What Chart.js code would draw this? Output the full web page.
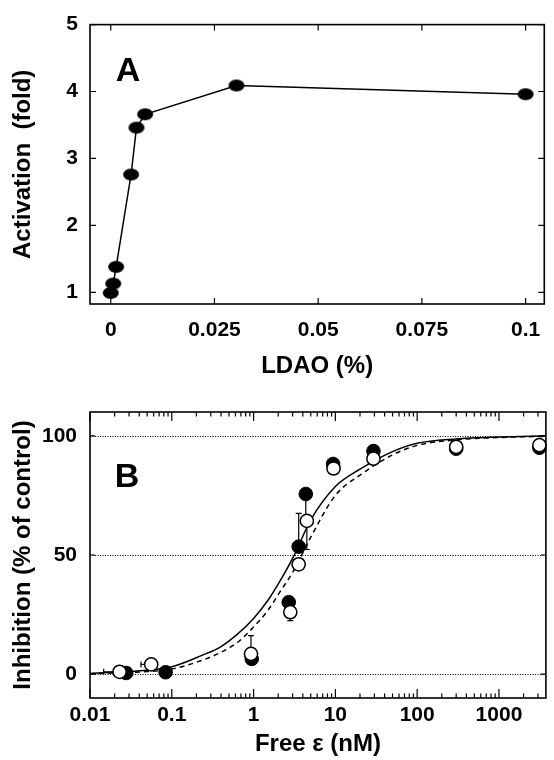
<!DOCTYPE html>
<html>
<head>
<meta charset="utf-8">
<title>LDAO activation / free epsilon inhibition</title>
<script src="https://cdn.jsdelivr.net/npm/chart.js@4.4.1/dist/chart.umd.min.js"></script>
<style>
  html, body { margin: 0; padding: 0; background: #fff; }
  #wrap { position: relative; width: 554px; height: 760px; }
  .panel { position: absolute; left: 0; width: 554px; }
  #panelA { top: 0; height: 385px; }
  #panelB { top: 385px; height: 375px; }
</style>
</head>
<body>
<div id="wrap">
  <div class="panel" id="panelA"><canvas id="chartA"></canvas></div>
  <div class="panel" id="panelB"><canvas id="chartB"></canvas></div>
</div>
<script>
// panel A - activation vs LDAO
const ldao = [0, 0.0006, 0.0013, 0.0049, 0.0062, 0.0083, 0.0303, 0.1]
const activation = [0.99, 1.13, 1.38, 2.76, 3.46, 3.66, 4.09, 3.96]
const xTicksA = [0, 0.025, 0.05, 0.075, 0.1]
const yTicksA = [1, 2, 3, 4, 5]

// panel B - inhibition vs free epsilon (filled / open symbols)
const freeFilled = [0.0277, 0.084, 0.95, 2.69, 3.56, 4.35, 9.38, 29.2, 300, 3120]
const inhibFilled = [0.5, 0.8, 6.4, 30.2, 53.5, 75.6, 88.2, 93.6, 94.6, 95.0]
const filledErrUp = [0, 0, 0, 0, 14, 0, 0, 0, 0, 0]
const filledErrDown = [0, 0, 0, 0, 0, 10, 0, 0, 0, 0]

const freeOpen = [0.023, 0.056, 0.93, 2.81, 3.56, 4.48, 9.5, 29.2, 300, 3120]
const inhibOpen = [1.0, 4.1, 8.5, 26.0, 46.1, 64.3, 86.3, 90.4, 95.4, 96.1]
const openErrUp = [0, 0, 7.7, 0, 0, 0, 0, 0, 0, 0]
const openErrDown = [0, 0, 0, 3.5, 0, 12, 0, 0, 0, 0]
const openXLow = [0.0147, 0.042, 0, 0, 0, 0, 0, 0, 0, 0]

// fitted curves
const curveX = [0.01, 0.05, 0.1, 0.23, 0.4, 0.64, 1.0, 1.5, 2.1, 3.1, 5, 10, 20, 50, 100, 300, 1000, 3750]
const solidY = [0.3, 1.6, 3.1, 7.8, 11.6, 16.9, 23.4, 31.0, 39.0, 49.5, 64.7, 78.7, 86.0, 93.4, 96.9, 98.7, 99.5, 100]
const dashedY = [0.2, 1.1, 2.2, 5.7, 9.2, 13.4, 19.8, 26.8, 34.5, 43.5, 57.5, 75.0, 83.5, 92.0, 96.0, 98.3, 99.3, 99.8]
const xTicksB = [0.01, 0.1, 1, 10, 100, 1000]
const yTicksB = [0, 50, 100]

Chart.defaults.font.family = '"Liberation Sans", Arial, Helvetica, sans-serif'
Chart.defaults.font.weight = 'bold'
Chart.defaults.color = '#000'

const toPoints = (xs, ys) => xs.map((x, i) => ({ x: x, y: ys[i] }))

// ellipse shaped dot used in panel A
function ellipseDot(rx, ry) {
    const c = document.createElement('canvas')
    c.width = rx * 2 + 2
    c.height = ry * 2 + 2
    const g = c.getContext('2d')
    g.fillStyle = '#000'
    g.beginPath()
    g.ellipse(c.width / 2, c.height / 2, rx, ry, 0, 0, Math.PI * 2)
    g.fill()
    return c
}

// box round the plot, inward ticks, dotted reference lines
const framePlugin = {
    id: 'frame',
    beforeDatasetsDraw(chart, args, opts) {
        if (!opts.dotted) return
        const { ctx, chartArea: a } = chart
        const y = chart.scales.y
        ctx.save()
        ctx.setLineDash([1, 1.5])
        ctx.lineWidth = 1
        ctx.strokeStyle = '#000'
        opts.dotted.forEach((v) => {
            const py = Math.round(y.getPixelForValue(v)) + 0.5
            ctx.beginPath()
            ctx.moveTo(a.left, py)
            ctx.lineTo(a.right, py)
            ctx.stroke()
        })
        ctx.restore()
    },
    afterDraw(chart, args, opts) {
        const { ctx, chartArea: a } = chart
        const x = chart.scales.x
        const y = chart.scales.y
        ctx.save()
        ctx.strokeStyle = '#000'
        ctx.lineWidth = 1.2
        ctx.beginPath()
        ;(opts.xTicks || []).forEach((t) => {
            const px = x.getPixelForValue(t.v)
            ctx.moveTo(px, a.bottom)
            ctx.lineTo(px, a.bottom - t.len)
            ctx.moveTo(px, a.top)
            ctx.lineTo(px, a.top + t.len)
        })
        ;(opts.yTicks || []).forEach((t) => {
            const py = y.getPixelForValue(t.v)
            ctx.moveTo(a.left, py)
            ctx.lineTo(a.left + t.len, py)
            ctx.moveTo(a.right, py)
            ctx.lineTo(a.right - t.len, py)
        })
        ctx.stroke()
        ctx.lineWidth = 1.6
        ctx.strokeRect(a.left, a.top, a.right - a.left, a.bottom - a.top)
        ctx.restore()
    }
}

// big panel letter
const letterPlugin = {
    id: 'letter',
    afterDraw(chart, args, opts) {
        const { ctx, chartArea: a } = chart
        ctx.save()
        ctx.font = 'bold 34px "Liberation Sans", Arial, sans-serif'
        ctx.fillStyle = '#000'
        ctx.textAlign = 'center'
        ctx.textBaseline = 'middle'
        ctx.fillText(opts.text, a.left + opts.dx, a.top + opts.dy)
        ctx.restore()
    }
}

// error bars (vertical up/down, horizontal to the left)
const errorPlugin = {
    id: 'errbars',
    beforeDatasetsDraw(chart, args, opts) {
        if (!opts.sets) return
        const { ctx } = chart
        const x = chart.scales.x
        const y = chart.scales.y
        const cap = 3
        ctx.save()
        ctx.strokeStyle = '#000'
        ctx.lineWidth = 1.2
        opts.sets.forEach((s) => {
            s.xs.forEach((xv, i) => {
                const px = x.getPixelForValue(xv)
                const py = y.getPixelForValue(s.ys[i])
                ctx.beginPath()
                if (s.up && s.up[i]) {
                    const ey = y.getPixelForValue(s.ys[i] + s.up[i])
                    ctx.moveTo(px, py); ctx.lineTo(px, ey)
                    ctx.moveTo(px - cap, ey); ctx.lineTo(px + cap, ey)
                }
                if (s.down && s.down[i]) {
                    const ey = y.getPixelForValue(s.ys[i] - s.down[i])
                    ctx.moveTo(px, py); ctx.lineTo(px, ey)
                    ctx.moveTo(px - cap, ey); ctx.lineTo(px + cap, ey)
                }
                if (s.xlow && s.xlow[i]) {
                    const ex = x.getPixelForValue(s.xlow[i])
                    ctx.moveTo(px, py); ctx.lineTo(ex, py)
                    ctx.moveTo(ex, py - cap); ctx.lineTo(ex, py + cap)
                }
                ctx.stroke()
            })
        })
        ctx.restore()
    }
}

const tickFont = { size: 21, weight: 'bold' }
const titleFont = { size: 24, weight: 'bold' }

// ---------- panel A ----------
new Chart(document.getElementById('chartA'), {
    type: 'scatter',
    data: {
        datasets: [{
            data: toPoints(ldao, activation),
            showLine: true,
            borderColor: '#000',
            borderWidth: 1.5,
            pointStyle: ellipseDot(8, 6),
            pointRadius: 8,
            clip: false
        }]
    },
    options: {
        responsive: true,
        maintainAspectRatio: false,
        animation: false,
        events: [],
        layout: { padding: { top: 18, right: 1, left: 0, bottom: 0 } },
        plugins: {
            legend: { display: false },
            tooltip: { enabled: false },
            frame: {
                xTicks: xTicksA.map((v) => ({ v: v, len: 6 })),
                yTicks: yTicksA.map((v) => ({ v: v, len: 6 }))
            },
            letter: { text: 'A', dx: 38, dy: 47 }
        },
        scales: {
            x: {
                type: 'linear',
                min: -0.005,
                max: 0.1045,
                grid: { display: false, drawTicks: false },
                border: { display: false },
                afterBuildTicks: (scale) => { scale.ticks = xTicksA.map((v) => ({ value: v })) },
                afterFit: (scale) => { scale.height = 81 },
                ticks: {
                    font: tickFont,
                    padding: 13.4,
                    autoSkip: false,
                    maxRotation: 0,
                    callback: (v) => String(v)
                },
                title: { display: true, text: 'LDAO (%)', font: titleFont, padding: { top: 0, bottom: 4.6 } }
            },
            y: {
                type: 'linear',
                min: 0.825,
                max: 5,
                grid: { display: false, drawTicks: false },
                border: { display: false },
                afterBuildTicks: (scale) => { scale.ticks = yTicksA.map((v) => ({ value: v })) },
                afterFit: (scale) => { scale.width = 90 },
                ticks: { font: tickFont, padding: 12, callback: (v) => String(v) },
                title: { display: true, text: 'Activation  (fold)', font: titleFont, padding: { top: 8.6, bottom: 0 } }
            }
        }
    },
    plugins: [framePlugin, letterPlugin]
})

// ---------- panel B ----------
const minorB = []
xTicksB.forEach((d) => {
    for (let m = 2; m <= 9; m++) {
        if (d * m <= 3750) minorB.push({ v: d * m, len: 4.5 })
    }
})

new Chart(document.getElementById('chartB'), {
    type: 'scatter',
    data: {
        datasets: [
            {
                label: 'open',
                data: toPoints(freeOpen, inhibOpen),
                pointRadius: 6.6,
                pointBackgroundColor: '#fff',
                pointBorderColor: '#000',
                pointBorderWidth: 1.5,
                order: 0,
                clip: false
            },
            {
                label: 'filled',
                data: toPoints(freeFilled, inhibFilled),
                pointRadius: 6.8,
                pointBackgroundColor: '#000',
                pointBorderColor: '#000',
                pointBorderWidth: 1,
                order: 1,
                clip: false
            },
            {
                label: 'fit solid',
                data: toPoints(curveX, solidY),
                showLine: true,
                pointRadius: 0,
                borderColor: '#000',
                borderWidth: 1.5,
                cubicInterpolationMode: 'monotone',
                order: 2
            },
            {
                label: 'fit dashed',
                data: toPoints(curveX, dashedY),
                showLine: true,
                pointRadius: 0,
                borderColor: '#000',
                borderWidth: 1.5,
                borderDash: [5, 4],
                cubicInterpolationMode: 'monotone',
                order: 3
            }
        ]
    },
    options: {
        responsive: true,
        maintainAspectRatio: false,
        animation: false,
        events: [],
        layout: { padding: { top: 27, right: 1, left: 0, bottom: 0 } },
        plugins: {
            legend: { display: false },
            tooltip: { enabled: false },
            frame: {
                xTicks: xTicksB.map((v) => ({ v: v, len: 9 })).concat(minorB),
                yTicks: yTicksB.map((v) => ({ v: v, len: 5 })),
                dotted: yTicksB
            },
            letter: { text: 'B', dx: 37, dy: 66 },
            errbars: {
                sets: [
                    { xs: freeFilled, ys: inhibFilled, up: filledErrUp, down: filledErrDown },
                    { xs: freeOpen, ys: inhibOpen, up: openErrUp, down: openErrDown, xlow: openXLow }
                ]
            }
        },
        scales: {
            x: {
                type: 'logarithmic',
                min: 0.01,
                max: 3750,
                grid: { display: false, drawTicks: false },
                border: { display: false },
                afterBuildTicks: (scale) => { scale.ticks = xTicksB.map((v) => ({ value: v })) },
                afterFit: (scale) => { scale.height = 62 },
                ticks: {
                    font: tickFont,
                    padding: 4.9,
                    autoSkip: false,
                    maxRotation: 0,
                    callback: (v) => String(v)
                },
                title: { display: true, text: 'Free ε (nM)', font: titleFont, padding: { top: 0, bottom: 1.6 } }
            },
            y: {
                type: 'linear',
                min: -10,
                max: 110,
                grid: { display: false, drawTicks: false },
                border: { display: false },
                afterBuildTicks: (scale) => { scale.ticks = yTicksB.map((v) => ({ value: v })) },
                afterFit: (scale) => { scale.width = 90 },
                ticks: { font: tickFont, padding: 13, callback: (v) => String(v) },
                title: { display: true, text: 'Inhibition (% of control)', font: titleFont, padding: { top: 8.6, bottom: 0 } }
            }
        }
    },
    plugins: [framePlugin, letterPlugin, errorPlugin]
})
</script>
</body>
</html>
